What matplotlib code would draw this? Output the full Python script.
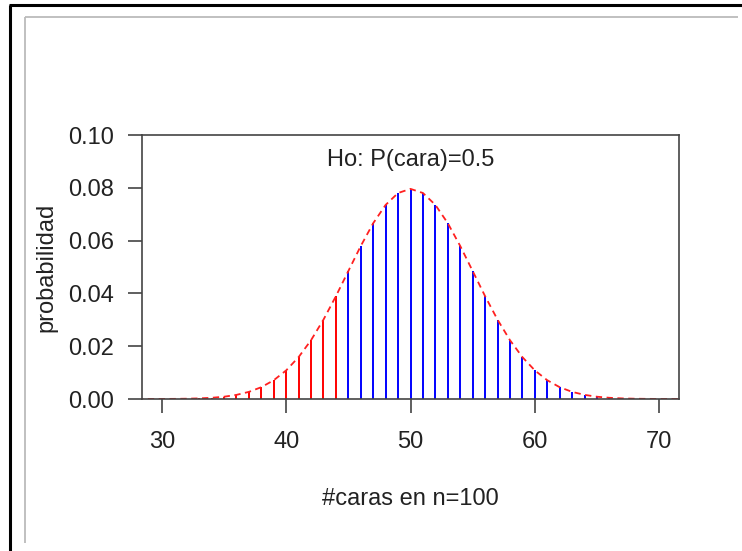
import matplotlib
matplotlib.use("Agg")
import matplotlib.pyplot as plt
from matplotlib.lines import Line2D

plt.rcParams['font.family'] = ['Liberation Sans', 'DejaVu Sans']

# Data: number of heads k and binomial probabilities (n=100, p=0.5)
k_values = list(range(30, 71))
probs = [0.0000232, 0.0000522, 0.0001124, 0.0002317, 0.0004580, 0.0008638,
         0.0015628, 0.0027000, 0.0044740, 0.0071108, 0.0108439, 0.0158691,
         0.0222923, 0.0300686, 0.0389525, 0.0484743, 0.0579584, 0.0665905,
         0.0735271, 0.0780287, 0.0795892, 0.0780287, 0.0735271, 0.0665905,
         0.0579584, 0.0484743, 0.0389525, 0.0300686, 0.0222923, 0.0158691,
         0.0108439, 0.0071108, 0.0044740, 0.0027000, 0.0015628, 0.0008638,
         0.0004580, 0.0002317, 0.0001124, 0.0000522, 0.0000232]
curve_x = [28, 29] + k_values + [71, 72]
curve_y = [0.0000046, 0.0000104] + probs + [0.0000104, 0.0000046]
critical = 45  # below this -> red
x_ticks = [30, 40, 50, 60, 70]
y_ticks = [0.00, 0.02, 0.04, 0.06, 0.08, 0.10]
y_tick_labels = ["0.00", "0.02", "0.04", "0.06", "0.08", "0.10"]

W, H = 742, 551
fig = plt.figure(figsize=(W / 100, H / 100), dpi=100)
ax = fig.add_axes([142 / W, 1 - 399 / H, (679 - 142) / W, (399 - 135) / H])

txt = '#222222'
axcol = '#444444'
for k, p in zip(k_values, probs):
    col = '#FF0000' if k < critical else '#0000FF'
    ax.vlines(k, 0, p, color=col, linewidth=1.4)
ax.plot(curve_x, curve_y, color='#FF2020', linestyle=(0, (3.5, 2.5)), linewidth=1.3)

ax.set_xlim(28.4, 71.6)
ax.set_ylim(0, 0.10)
ax.set_xticks(x_ticks)
ax.set_xticklabels([str(v) for v in x_ticks])
ax.set_yticks(y_ticks)
ax.set_yticklabels(y_tick_labels)
for s in ax.spines.values():
    s.set_color(axcol)
    s.set_linewidth(1.2)
ax.tick_params(axis='both', direction='out', length=10, width=1.2, color=axcol,
               labelsize=17, labelcolor=txt)
ax.tick_params(axis='x', pad=13)
ax.tick_params(axis='y', pad=10)

ax.text(0.5, 0.905, "Ho: P(cara)=0.5", transform=ax.transAxes, ha='center', va='center',
        fontsize=17, color=txt)
fig.text(410 / W, 1 - 499 / H, "#caras en n=100", ha='center', va='center', fontsize=17, color=txt)
fig.text(46 / W, 1 - 267 / H, "probabilidad", ha='center', va='center', rotation=90,
         fontsize=17, color=txt)

# Outer frames
def fl(x0, y0, x1, y1, **kw):
    fig.add_artist(Line2D([x0 / W, x1 / W], [1 - y0 / H, 1 - y1 / H], transform=fig.transFigure, **kw))

fl(9, 5, W, 5, color='black', linewidth=2.2, solid_capstyle='butt')
fl(10, 5, 10, H, color='black', linewidth=2.2, solid_capstyle='butt')
fl(24.5, 17, 738, 17, color='#BBBBBB', linewidth=1.3, solid_capstyle='butt')
fl(24.5, 17, 24.5, 543, color='#BBBBBB', linewidth=1.3, solid_capstyle='butt')

fig.savefig("out.png", dpi=100)
